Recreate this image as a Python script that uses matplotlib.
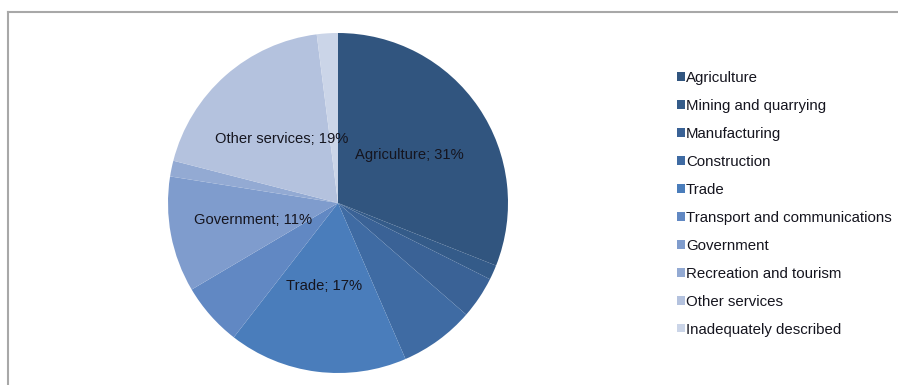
import matplotlib
matplotlib.use("Agg")
import matplotlib.pyplot as plt
from matplotlib.lines import Line2D

plt.rcParams["font.family"] = ["Liberation Sans", "DejaVu Sans"]

sectors = [
    "Agriculture",
    "Mining and quarrying",
    "Manufacturing",
    "Construction",
    "Trade",
    "Transport and communications",
    "Government",
    "Recreation and tourism",
    "Other services",
    "Inadequately described",
]
shares = [31, 1.4, 4, 7.1, 17, 6, 11, 1.5, 19, 2]
colors = [
    "#31557f", "#345b89", "#3a6296", "#3f6ba3", "#4a7dbb",
    "#6188c3", "#7f9ccd", "#93aad3", "#b4c2de", "#cbd5e8",
]
# only the big slices get an inside label
labelled = {"Agriculture": (0.42, 0.28), "Trade": (-0.08, -0.49),
            "Government": (-0.50, -0.10), "Other services": (-0.33, 0.375)}

W, H = 898, 385
fig = plt.figure(figsize=(W / 100, H / 100), dpi=100)

cx, cy, r = 338, 203, 170
ax = fig.add_axes([(cx - r) / W, (H - cy - r) / H, 2 * r / W, 2 * r / H])
wedges, _ = ax.pie(shares, colors=colors, startangle=90, counterclock=False,
                   radius=1, wedgeprops={"linewidth": 0})
ax.set_xlim(-1, 1)
ax.set_ylim(-1, 1)
ax.set_aspect("equal")
ax.axis("off")

total = sum(shares)
for name, val in zip(sectors, shares):
    if name in labelled:
        x, y = labelled[name]
        ax.text(x, y, f"{name}; {val / total:.0%}", ha="center", va="center",
                fontsize=10.6, color="#15151f")

fig.legend(wedges, sectors, loc="upper left", bbox_to_anchor=(671 / W, 1 - 65 / H),
           frameon=False, fontsize=10.8, handlelength=0.5, handleheight=0.5,
           handletextpad=0.1, labelspacing=0.93, borderaxespad=0,
           labelcolor="#15151f")

# chart-area border (open to the right and bottom)
fig.add_artist(Line2D([8 / W, 1], [1 - 12 / H, 1 - 12 / H], color="#a8a8a8", lw=1.5))
fig.add_artist(Line2D([8 / W, 8 / W], [0, 1 - 12 / H], color="#a8a8a8", lw=1.5))

fig.savefig("out.png", dpi=100)
